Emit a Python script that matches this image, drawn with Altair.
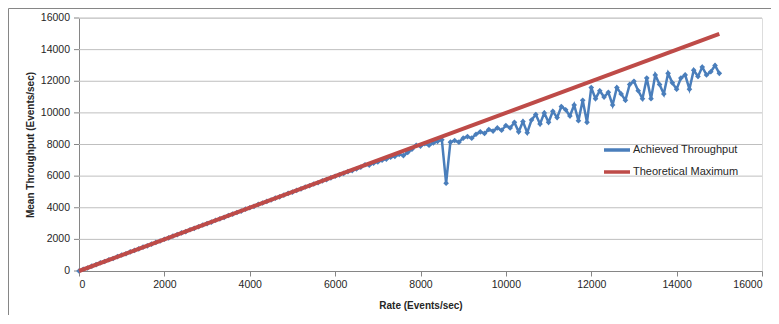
import altair as alt
import pandas as pd

# ---- data ----
rate = list(range(0, 15001, 100))
achieved = [
    0, 110, 190, 310, 400, 520, 600, 710, 790, 910,
    1010, 1090, 1210, 1300, 1400, 1510, 1590, 1700, 1810, 1900,
    2010, 2090, 2210, 2300, 2410, 2490, 2610, 2700, 2800, 2910,
    3000, 3090, 3210, 3300, 3390, 3510, 3600, 3700, 3790, 3910,
    4000, 4090, 4210, 4300, 4400, 4490, 4610, 4690, 4800, 4910,
    4990, 5100, 5190, 5310, 5390, 5500, 5580, 5700, 5780, 5890,
    5990, 6080, 6170, 6280, 6350, 6450, 6560, 6720, 6700, 6820,
    6900, 7010, 7080, 7200, 7250, 7380, 7300, 7500, 7700, 7950,
    7900, 8050, 7950, 8100, 8200, 8300, 5550, 8150, 8250, 8150,
    8400, 8500, 8400, 8650, 8800, 8700, 8950, 8850, 9050, 8900,
    9200, 9050, 9400, 8800, 9450, 8750, 9550, 9900, 9300, 10000,
    9400, 10100, 9700, 10400, 10200, 9800, 10500, 9500, 10800, 9400,
    11600, 10900, 11400, 11000, 11300, 10500, 11600, 11200, 10800, 11800,
    12000, 11400, 10900, 12200, 10900, 12400, 11800, 11200, 12500, 11900,
    11500, 12200, 12400, 11500, 12700, 12300, 12900, 12400, 12600, 13000,
    12500,
]
theory_rate = [0, 15000]
theory_value = [0, 15000]
series_names = ["Achieved Throughput", "Theoretical Maximum"]
x_ticks = [0, 2000, 4000, 6000, 8000, 10000, 12000, 14000, 16000]
y_ticks = [0, 2000, 4000, 6000, 8000, 10000, 12000, 14000, 16000]

BLUE = "#4A7EBB"
RED = "#BE4B48"
FONT = "Liberation Sans"
TXT = "#262626"
AXC = "#868686"

df_a = pd.DataFrame({"rate": rate, "value": achieved, "series": series_names[0]})
df_t = pd.DataFrame({"rate": theory_rate, "value": theory_value, "series": series_names[1]})
df_y = pd.DataFrame({"value": y_ticks})

W, H = 683, 253

x_scale = alt.Scale(domain=[0, 16000], nice=False)
y_scale = alt.Scale(domain=[0, 16000], nice=False)

x_axis = alt.Axis(
    values=x_ticks, format="d", labelOverlap=False, title="Rate (Events/sec)", grid=False,
    domainColor=AXC, tickColor=AXC, tickSize=5,
    labelPadding=3, labelFontSize=10.5, labelColor=TXT, labelFont=FONT,
    titleFont=FONT, titleFontSize=10, titleFontWeight="bold", titleColor=TXT,
    titleBaseline="middle", titleY=34, titleX=W / 2,
)
y_axis = alt.Axis(
    labels=False, ticks=False, grid=False,
    title="Mean Throughput (Events/sec)", domainColor=AXC,
    titleFont=FONT, titleFontSize=10, titleFontWeight="bold", titleColor=TXT,
    titleBaseline="middle", titleX=-49, titleY=H / 2,
)

x_enc = alt.X("rate:Q", scale=x_scale, axis=x_axis)
y_enc = alt.Y("value:Q", scale=y_scale, axis=y_axis)

color_enc = alt.Color(
    "series:N",
    scale=alt.Scale(domain=series_names, range=[BLUE, RED]),
    legend=alt.Legend(
        title=None, orient="none", legendX=523, legendY=121,
        symbolType="stroke", symbolSize=676, symbolStrokeWidth=3.5,
        labelFontSize=11, labelFont=FONT, labelColor=TXT, labelOffset=1,
        clipHeight=22, rowPadding=0,
    ),
)

# horizontal gridlines, y tick marks and y tick labels, from the y tick list
grid = alt.Chart(df_y).transform_filter("datum.value > 0").mark_rule(
    color="#BFBFBF", strokeWidth=1
).encode(y=y_enc, x=alt.value(0), x2=alt.value(W))
yticks = alt.Chart(df_y).mark_rule(color=AXC, strokeWidth=1).encode(
    y=y_enc, x=alt.value(-5), x2=alt.value(0)
)
ylabels = alt.Chart(df_y).mark_text(
    align="right", baseline="middle", font=FONT, fontSize=10.5, color=TXT
).encode(y=y_enc, x=alt.value(-9), text=alt.Text("value:Q", format="d"))

line_a = alt.Chart(df_a).mark_line(strokeWidth=2.5).encode(x=x_enc, y=y_enc, color=color_enc)
pts_a = alt.Chart(df_a).mark_point(shape="diamond", filled=True, size=32, opacity=1, color=BLUE).encode(
    x=x_enc, y=y_enc
)
line_t = alt.Chart(df_t).mark_line(strokeWidth=4).encode(x=x_enc, y=y_enc, color=color_enc)

border = alt.Chart(alt.Data(values=[{"a": 1}])).mark_rect(
    fill=None, stroke=AXC, strokeWidth=1
).encode(x=alt.value(-70.5), x2=alt.value(800), y=alt.value(-9.5), y2=alt.value(600))

chart = alt.layer(grid, yticks, ylabels, line_a, pts_a, line_t, border).properties(
    width=W, height=H,
    autosize=alt.AutoSizeParams(type="none"),
    padding={"left": 71, "top": 10, "right": 9, "bottom": 44},
).configure_view(stroke=None).configure(background="white")

chart.save("out.html", embed_options={"renderer": "svg", "actions": False})
